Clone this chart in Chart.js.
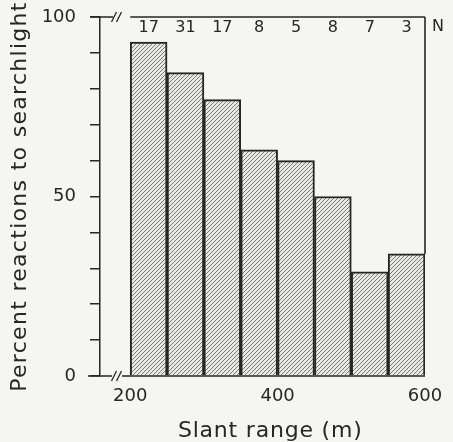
<!DOCTYPE html>
<html>
<head>
<meta charset="utf-8">
<script src="https://cdn.jsdelivr.net/npm/chart.js@4/dist/chart.umd.min.js"></script>
<style>
  html, body { margin: 0; padding: 0; background: #f5f5f3; }
  #wrap { width: 453px; height: 442px; }
</style>
</head>
<body>
<div id="wrap"><canvas id="c" width="453" height="442"></canvas></div>
<script>
// ---- data ----
const binStarts = [200, 250, 300, 350, 400, 450, 500, 550];
const binWidth = 50;
const percentReacting = [93, 84.5, 77, 63, 60, 50, 29, 34];
const sampleSizes = [17, 31, 17, 8, 5, 8, 7, 3];
const xTickValues = [200, 400, 600];
const yLabelValues = [0, 50, 100];
const xTitle = 'Slant range (m)';
const yTitle = 'Percent reactions to searchlight';

const binCenters = binStarts.map(s => s + binWidth / 2);
const ink = '#262626';
const FONT = '"DejaVu Sans", sans-serif';

function hatch() {
  const p = document.createElement('canvas');
  p.width = 4; p.height = 4;
  const g = p.getContext('2d');
  g.fillStyle = '#e8e8e6';
  g.fillRect(0, 0, 4, 4);
  g.strokeStyle = '#7a7a7a';
  g.lineWidth = 1;
  g.beginPath();
  g.moveTo(-1, 5); g.lineTo(5, -1);
  g.moveTo(-1, 1); g.lineTo(1, -1);
  g.moveTo(3, 5); g.lineTo(5, 3);
  g.stroke();
  return g.createPattern(p, 'repeat');
}

const decor = {
  id: 'decor',
  afterDatasetsDraw(chart) {
    const { ctx, chartArea: a, scales: { x, y } } = chart;
    ctx.save();
    ctx.strokeStyle = ink;
    ctx.lineWidth = 1.6;
    const x0 = x.getPixelForValue(binStarts[0]);
    const xEnd = x.getPixelForValue(binStarts[binStarts.length - 1] + binWidth);
    const yTop = y.getPixelForValue(100);
    const yBot = y.getPixelForValue(0);
    const yLast = y.getPixelForValue(percentReacting[percentReacting.length - 1]);
    ctx.beginPath();
    ctx.moveTo(x0, yTop); ctx.lineTo(xEnd, yTop);
    ctx.moveTo(xEnd, yTop); ctx.lineTo(xEnd, yLast);
    ctx.moveTo(a.left - 10, yTop); ctx.lineTo(a.left + 13, yTop);
    ctx.moveTo(a.left - 12, yBot); ctx.lineTo(a.left + 12, yBot);
    ctx.moveTo(a.left + 22, yBot); ctx.lineTo(xEnd, yBot);
    ctx.stroke();
    ctx.lineWidth = 1.3;
    ctx.beginPath();
    [[a.left + 14, yTop], [a.left + 19, yTop], [a.left + 14, yBot], [a.left + 19, yBot]].forEach(([bx, by]) => {
      ctx.moveTo(bx - 2.5, by + 5); ctx.lineTo(bx + 2.5, by - 5);
    });
    ctx.stroke();
    // sample-size labels
    ctx.fillStyle = ink;
    ctx.font = '16px ' + FONT;
    ctx.textAlign = 'center';
    ctx.textBaseline = 'middle';
    binCenters.forEach((c, i) => {
      ctx.fillText(String(sampleSizes[i]), x.getPixelForValue(c), yTop + 11);
    });
    ctx.fillText('N', xEnd + 13, yTop + 10);
    // axis titles (letter-spaced like the original lettering)
    ctx.font = '22px ' + FONT;
    ctx.letterSpacing = '0.8px';
    ctx.textBaseline = 'alphabetic';
    ctx.fillText(xTitle, x.getPixelForValue(390), 437);
    ctx.save();
    ctx.translate(26, (a.top + a.bottom) / 2);
    ctx.rotate(-Math.PI / 2);
    ctx.letterSpacing = '1.3px';
    ctx.fillText(yTitle, 0, 0);
    ctx.restore();
    ctx.restore();
  }
};

new Chart(document.getElementById('c'), {
  type: 'bar',
  data: {
    datasets: [{
      data: binCenters.map((c, i) => ({ x: c, y: percentReacting[i] })),
      backgroundColor: hatch(),
      borderColor: ink,
      borderWidth: { top: 2, left: 2, right: 2, bottom: 0 },
      borderSkipped: false,
      barPercentage: 1,
      categoryPercentage: 1
    }]
  },
  options: {
    responsive: false,
    animation: false,
    events: [],
    layout: { padding: { top: 17, right: 28, left: 0, bottom: 0 } },
    plugins: { legend: { display: false }, tooltip: { enabled: false } },
    scales: {
      x: {
        type: 'linear',
        offset: false,
        min: 159,
        max: 600,
        afterBuildTicks(s) { s.ticks = xTickValues.map(v => ({ value: v })); },
        afterFit(s) { s.height = 66; s.paddingLeft = 0; s.paddingRight = 0; },
        grid: { display: false, drawTicks: false },
        border: { display: false },
        ticks: { padding: 10, color: ink, maxRotation: 0, font: { family: FONT, size: 18 } }
      },
      y: {
        min: 0, max: 100,
        afterBuildTicks(s) {
          const t = []; for (let v = 0; v <= 100; v += 10) t.push({ value: v }); s.ticks = t;
        },
        afterFit(s) { s.width = 100; s.paddingTop = 0; s.paddingBottom = 0; },
        grid: { drawOnChartArea: false, drawTicks: true, tickLength: 10, color: ink, lineWidth: 1.5 },
        border: { display: true, color: ink, width: 1.5 },
        ticks: {
          color: ink, padding: 14, font: { family: FONT, size: 18 },
          callback: v => yLabelValues.includes(v) ? String(v) : ''
        }
      }
    }
  },
  plugins: [decor]
});
</script>
</body>
</html>
